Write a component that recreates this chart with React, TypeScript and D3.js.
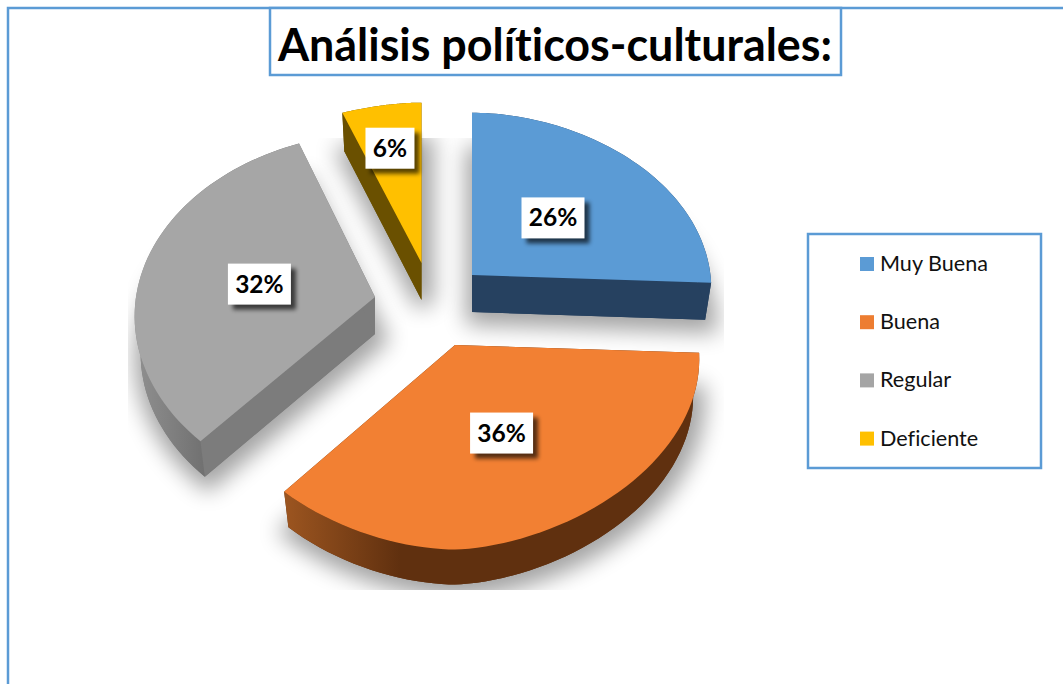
import React from "react";
import * as d3 from "d3";

const categories = ["Muy Buena", "Buena", "Regular", "Deficiente"];
const percentages = [26, 36, 32, 6];
const topColors = ["#5b9bd5", "#f28033", "#a6a6a6", "#ffc000"];
const legendColors = ["#5b9bd5", "#ed7d31", "#a5a5a5", "#ffc000"];
const sideColors = ["#264160", "#60300f", "#7c7c7c", "#6a5000"];

// per-slice placement of the exploded, perspective-distorted pie
const sliceCx = [472, 455, 375, 421.5];
const sliceCy = [275, 345, 297, 263];
const sliceWidth = [238, 243, 239, 262];
const sliceHeight = [180, 182, 182, 178];
const sliceBulge = [1.1, 1.15, 1.05, 1.1];
const sliceTilt = [-0.015, -0.015, 0, 0];
const labelRadius = [0.5, 0.5, 0.5, 0.7];
const labelDx = [0, 6, 0.5, -4.5];
const labelDy = [3.5, -0.5, 4, -1];

const W = 1063;
const H = 684;
const FONT = "Lato, Carlito, 'Open Sans', sans-serif";
const DEPTH = 37;
const PERSP = 0.11;

type P = [number, number];

const pie = d3.pie<number>().sort(null).startAngle(0).endAngle(2 * Math.PI);
const arcs = pie(percentages);
const line = d3.line<P>();

function project(i: number, a: number, r: number, bottom = false): P {
  const s = Math.sin(a);
  const X = r * Math.sign(s) * Math.pow(Math.abs(s), sliceBulge[i]);
  const Y = r * Math.cos(a);
  const k = 1 + PERSP * Y;
  const x = (sliceWidth[i] * X) / k;
  const y = (-sliceHeight[i] * Y) / k + sliceTilt[i] * x;
  if (bottom) return [sliceCx[i] + x * 0.975, sliceCy[i] + y * 0.99 + DEPTH];
  return [sliceCx[i] + x, sliceCy[i] + y];
}

function rim(i: number, bottom = false): P[] {
  const { startAngle, endAngle } = arcs[i];
  const n = 60;
  return d3.range(n + 1).map((k) => project(i, startAngle + ((endAngle - startAngle) * k) / n, 1, bottom));
}

const closed = (pts: P[]) => line(pts) + "Z";

function topFace(i: number) {
  return closed([project(i, 0, 0), ...rim(i)]);
}
function bottomFace(i: number) {
  return closed([project(i, 0, 0, true), ...rim(i, true)]);
}
function outerWall(i: number) {
  return closed([...rim(i), ...rim(i, true).reverse()]);
}
function radialWall(i: number, a: number) {
  return closed([project(i, 0, 0), project(i, a, 1), project(i, a, 1, true), project(i, 0, 0, true)]);
}

export default function App() {
  return (
    <svg
      width={W}
      height={H}
      viewBox={`0 0 ${W} ${H}`}
      style={{ position: "absolute", left: 0, top: 0, display: "block", background: "#fff" }}
    >
      <defs>
        <filter id="softShadow" filterUnits="userSpaceOnUse" x={0} y={0} width={W} height={H}>
          <feGaussianBlur stdDeviation="11" />
        </filter>
        <filter id="boxShadow" x="-30%" y="-30%" width="170%" height="170%">
          <feGaussianBlur stdDeviation="2.2" />
        </filter>
        <clipPath id="shadowClip">
          <rect x={128} y={138} width={596} height={452} />
        </clipPath>
        <linearGradient id="orangeWall" gradientUnits="userSpaceOnUse" x1={285} x2={400} y1={0} y2={0}>
          <stop offset="0" stopColor="#9c5520" />
          <stop offset="1" stopColor="#60300f" />
        </linearGradient>
        <linearGradient id="grayWall" gradientUnits="userSpaceOnUse" x1={140} x2={208} y1={0} y2={0}>
          <stop offset="0" stopColor="#8e8e8e" />
          <stop offset="1" stopColor="#6f6f6f" />
        </linearGradient>
      </defs>

      <g clipPath="url(#shadowClip)">
        {arcs.map((_, i) => (
          <path
            key={categories[i]}
            d={bottomFace(i)}
            transform="translate(3,4)"
            fill="#000"
            stroke="#000"
            strokeWidth={18}
            opacity={0.36}
            filter="url(#softShadow)"
          />
        ))}
      </g>

      <path d={`M${W},8 H8 V${H}`} fill="none" stroke="#5b9bd5" strokeWidth={2.5} />

      {arcs.map((d, i) => (
        <g key={categories[i]}>
          <path d={bottomFace(i)} fill={sideColors[i]} />
          <path d={radialWall(i, d.startAngle)} fill={sideColors[i]} />
          <path d={radialWall(i, d.endAngle)} fill={sideColors[i]} />
          <path
            d={outerWall(i)}
            fill={i === 1 ? "url(#orangeWall)" : i === 2 ? "url(#grayWall)" : sideColors[i]}
          />
          <path d={topFace(i)} fill={topColors[i]} />
        </g>
      ))}

      {arcs.map((d, i) => {
        const [px, py] = project(i, (d.startAngle + d.endAngle) / 2, labelRadius[i]);
        const x = px + labelDx[i];
        const y = py + labelDy[i];
        const w = percentages[i] < 10 ? 49 : 63;
        const h = 41;
        return (
          <g key={categories[i]}>
            <rect
              x={x - w / 2 + 5}
              y={y - h / 2 + 5}
              width={w}
              height={h}
              fill="#000"
              opacity={0.65}
              filter="url(#boxShadow)"
            />
            <rect x={x - w / 2} y={y - h / 2} width={w} height={h} fill="#fff" />
            <text
              x={x}
              y={y + 8.5}
              textAnchor="middle"
              fontFamily={FONT}
              fontWeight={700}
              fontSize={24.5}
              fill="#000"
            >
              {percentages[i]}%
            </text>
          </g>
        );
      })}

      <rect x={270} y={8} width={571} height={67} fill="#fff" stroke="#5b9bd5" strokeWidth={2.5} />
      <text
        x={555}
        y={61}
        textAnchor="middle"
        fontFamily={FONT}
        fontWeight={700}
        fontSize={46}
        fill="#000"
        textLength={554}
        lengthAdjust="spacingAndGlyphs"
        style={{ fontVariantLigatures: "none" }}
      >
        Análisis políticos-culturales:
      </text>

      <rect x={808} y={234} width={233} height={234} fill="#fff" stroke="#5b9bd5" strokeWidth={2.5} />
      {categories.map((c, i) => {
        const y = 264 + i * 58.2;
        return (
          <g key={c}>
            <rect x={860} y={y - 7} width={14} height={14} fill={legendColors[i]} />
            <text
              x={880}
              y={y + 7}
              fontFamily={FONT}
              fontSize={21.6}
              fill="#111"
              style={{ fontVariantLigatures: "none" }}
            >
              {c}
            </text>
          </g>
        );
      })}
    </svg>
  );
}
